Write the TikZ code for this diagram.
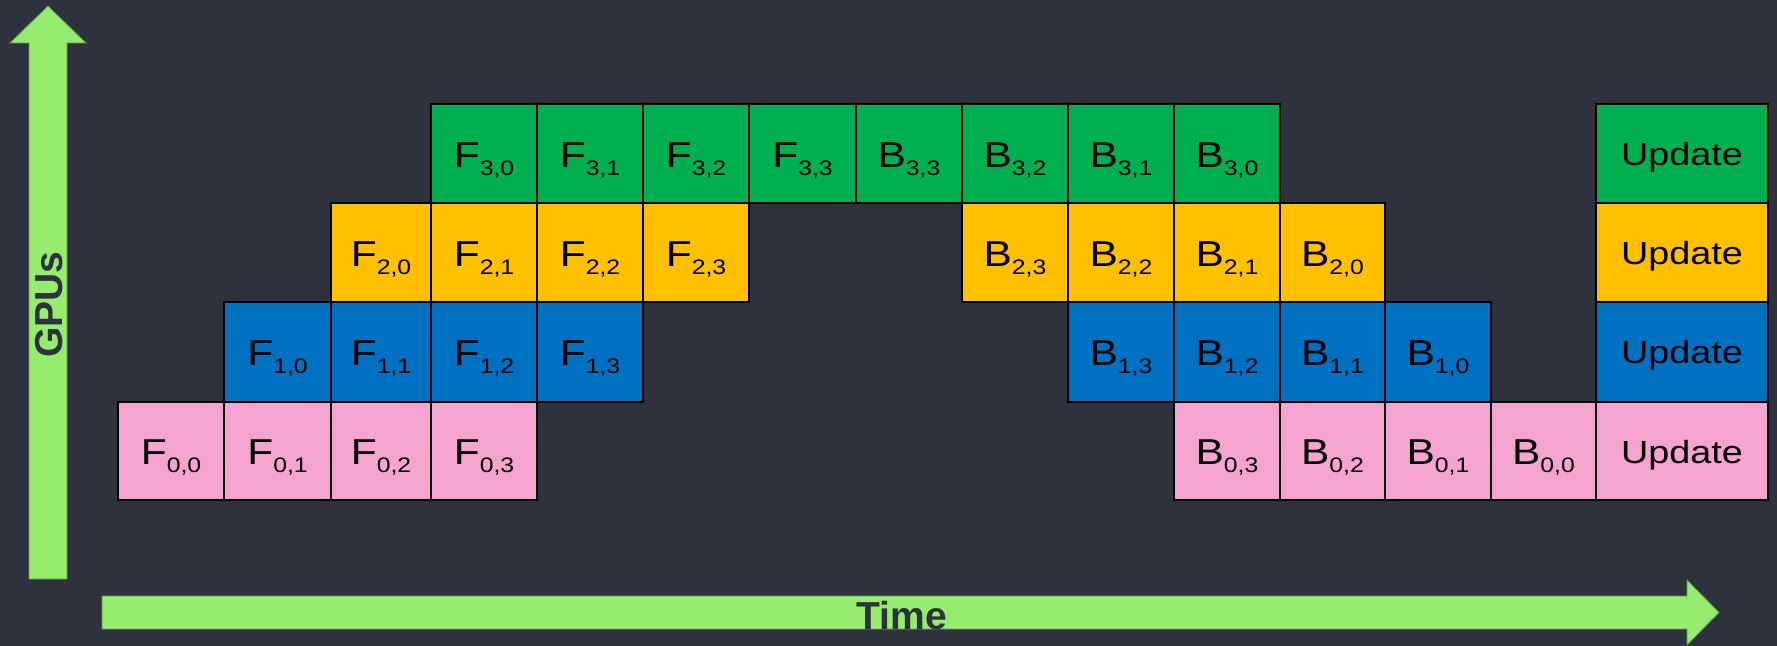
\documentclass[tikz,border=0pt]{standalone}
\usepackage{fontspec}
\setmainfont{Liberation Sans}
\newfontfamily\cellfont[FakeStretch=1.18]{Liberation Sans}

\definecolor{bgdark}{HTML}{2E323D}
\definecolor{axisgreen}{HTML}{95EC6E}
\definecolor{gpu0}{HTML}{F4A4CF}
\definecolor{gpu1}{HTML}{0070C0}
\definecolor{gpu2}{HTML}{FFC000}
\definecolor{gpu3}{HTML}{00B050}

% column edges and row edges (bottom of row 0 first)
\def\colx{{118,224,331,431,537,643,749,856,962,1068,1174,1280,1385,1491,1596,1768}}
\def\rowy{{500,402,302,203,104}}

\newcommand{\op}[2]{\fontsize{18}{18}\selectfont #1\raisebox{-4pt}{\fontsize{10.5}{10.5}\selectfont #2}}

\tikzset{
  cell/.style={draw=black, line width=1pt, inner sep=0pt, text height=15pt, text depth=1pt, font=\cellfont},
  upd/.style={cell, text height=13pt, font=\cellfont\fontsize{16}{16}\selectfont},
  axis/.style={fill=axisgreen, draw=axisgreen!65!black, line width=0.4pt},
  axislabel/.style={inner sep=0pt, text=bgdark, font=\bfseries\fontsize{19.5}{20}\selectfont}
}

\begin{document}
\begin{tikzpicture}[x=0.5pt, y=-0.5pt]
  \fill[bgdark] (0,0) rectangle (1777,646);
  \useasboundingbox (0,0) rectangle (1777,646);

  % axes
  \filldraw[axis] (29,579) -- (29,43) -- (10,43) -- (48,6) -- (86,43) -- (67,43) -- (67,579) -- cycle;
  \filldraw[axis] (102,596) -- (1687,596) -- (1687,580) -- (1719,612.5) -- (1687,645) -- (1687,629) -- (102,629) -- cycle;
  \node(gpus) [axislabel, rotate=90, anchor=base] at (62,304.5) {GPUs};
  \node(time) [axislabel, anchor=base] at (901.7,629) {Time};

  % forward and backward micro-batches per GPU
  \foreach \gpu/\shade in {0/gpu0,1/gpu1,2/gpu2,3/gpu3} {
    \pgfmathsetmacro\yb{\rowy[\gpu]}
    \pgfmathsetmacro\yt{\rowy[\gpu+1]}
    \pgfmathsetmacro\h{(\yb-\yt)*0.5}
    \foreach \mb in {0,...,3} {
      \pgfmathtruncatemacro\k{\gpu+\mb}
      \pgfmathsetmacro\xl{\colx[\k]}
      \pgfmathsetmacro\xr{\colx[\k+1]}
      \pgfmathsetmacro\w{(\xr-\xl)*0.5}
      \node(F\gpu\mb) [cell, fill=\shade, minimum width=\w pt, minimum height=\h pt] at ({(\xl+\xr)/2},{(\yt+\yb)/2}) {\op{F}{\gpu,\mb}};
      \pgfmathtruncatemacro\k{13-\gpu-\mb}
      \pgfmathsetmacro\xl{\colx[\k]}
      \pgfmathsetmacro\xr{\colx[\k+1]}
      \pgfmathsetmacro\w{(\xr-\xl)*0.5}
      \node(B\gpu\mb) [cell, fill=\shade, minimum width=\w pt, minimum height=\h pt] at ({(\xl+\xr)/2},{(\yt+\yb)/2}) {\op{B}{\gpu,\mb}};
    }
    \node(U\gpu) [upd, fill=\shade, minimum width=86pt, minimum height=\h pt] at (1682,{(\yt+\yb)/2}) {Update};
  }
\end{tikzpicture}
\end{document}
